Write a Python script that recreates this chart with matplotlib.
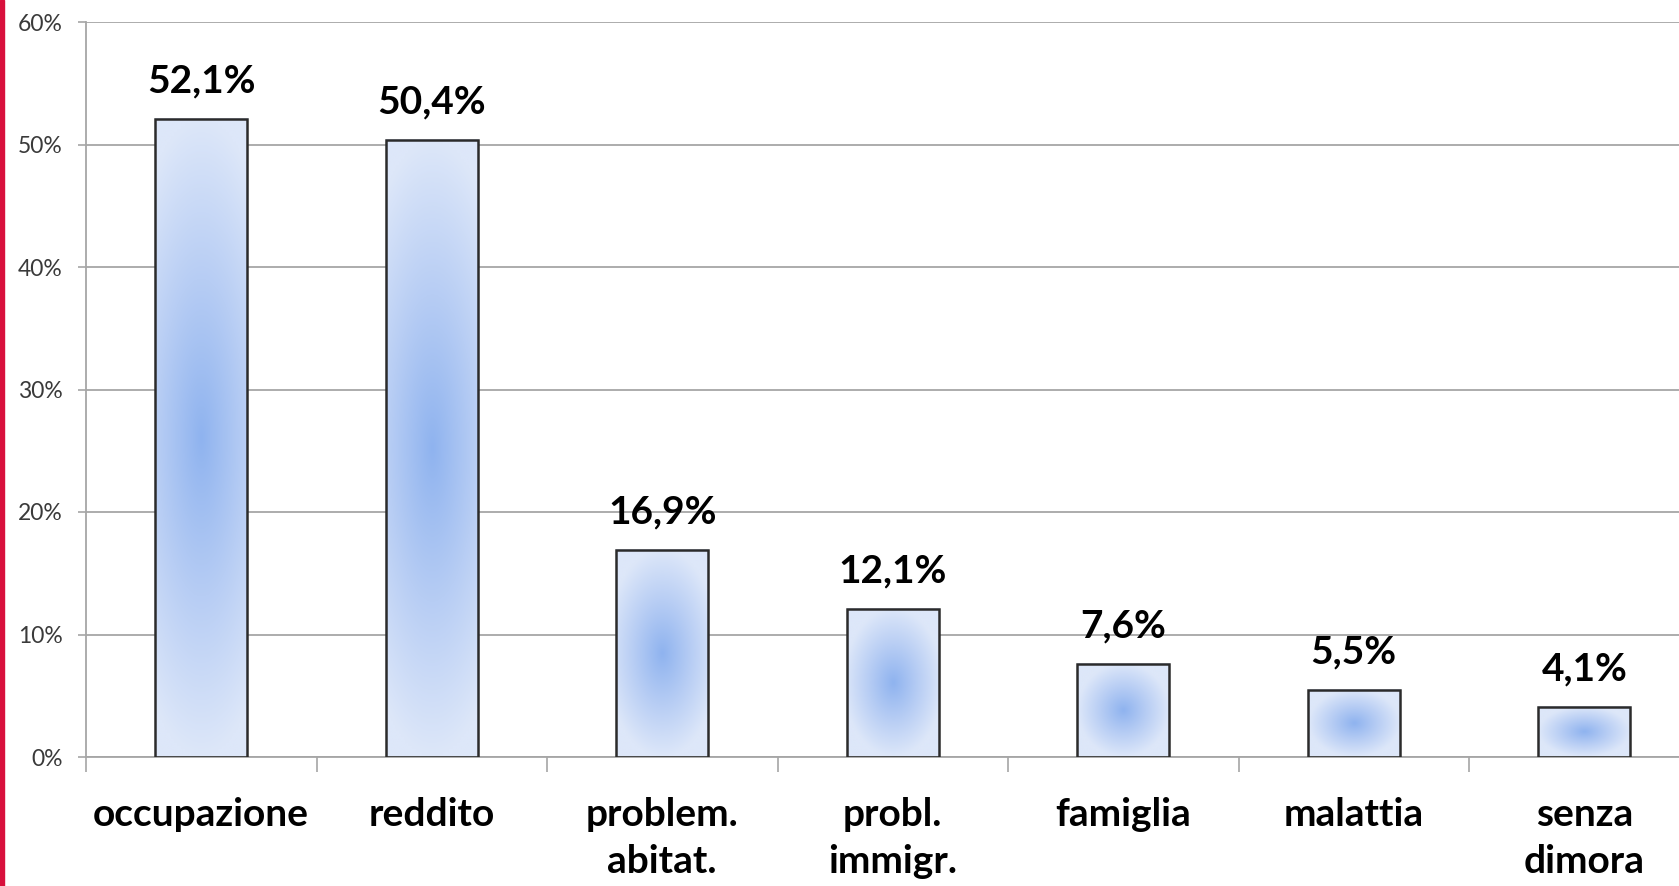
import matplotlib
matplotlib.use('Agg')
import matplotlib.pyplot as plt
import numpy as np
from matplotlib.colors import LinearSegmentedColormap
from matplotlib.patches import Rectangle

categories = ['occupazione', 'reddito', 'problem.\nabitat.', 'probl.\nimmigr.',
              'famiglia', 'malattia', 'senza\ndimora']
values = [52.1, 50.4, 16.9, 12.1, 7.6, 5.5, 4.1]
value_labels = ['52,1%', '50,4%', '16,9%', '12,1%', '7,6%', '5,5%', '4,1%']
yticks = [0, 10, 20, 30, 40, 50, 60]
ytick_labels = ['0%', '10%', '20%', '30%', '40%', '50%', '60%']

plt.rcParams['font.family'] = ['Lato', 'DejaVu Sans']

W, H = 1679, 886
fig = plt.figure(figsize=(W/100, H/100), dpi=100)
left, right, bottom, top = 86, 1699.5, 129, 864
ax = fig.add_axes([left/W, bottom/H, (right-left)/W, (top-bottom)/H])

# red stripe at the left edge of the slide
fig.add_artist(Rectangle((0, 0), 4/W, 1, transform=fig.transFigure,
                         color='#d8103c', zorder=10))

ax.set_xlim(0, 7)
ax.set_ylim(0, 60)

grid_c = '#a6a6a6'
ax.set_yticks(yticks)
ax.set_yticklabels(ytick_labels, fontsize=16.5, color='#3a3a3a')
ax.yaxis.grid(True, color=grid_c, linewidth=1.3)
ax.set_axisbelow(True)
ax.tick_params(axis='y', length=6, width=1.2, color=grid_c, pad=11)

ax.set_xticks(np.arange(7) + 0.5)
ax.set_xticklabels(categories, fontsize=28, fontweight='bold', linespacing=1.4)
ax.set_xticks(np.arange(8), minor=True)
ax.tick_params(axis='x', which='major', length=0, pad=29)
ax.tick_params(axis='x', which='minor', length=11, width=1.2, color=grid_c)

for s in ['top', 'right']:
    ax.spines[s].set_visible(False)
ax.spines['left'].set_color(grid_c)
ax.spines['bottom'].set_color(grid_c)
ax.spines['left'].set_linewidth(1.3)
ax.spines['bottom'].set_linewidth(1.3)

cmap = LinearSegmentedColormap.from_list('g', ['#8fb3ef', '#b7cdf4', '#dde7f9'])
bw = 0.4
px_per_cat = (right - left) / 7
px_per_unit = (top - bottom) / 60
for i, v in enumerate(values):
    x0 = i + 0.5 - bw/2
    wpx = bw * px_per_cat
    hpx = v * px_per_unit
    c = np.clip(wpx/hpx*1.2 + 0.1, 0.25, 1.0)
    yy, xx = np.mgrid[-1:1:200j, -1:1:60j]
    t = np.clip(np.sqrt(c*xx**2 + yy**2), 0, 1)
    ax.imshow(t, cmap=cmap, extent=(x0, x0+bw, 0, v), aspect='auto',
              origin='lower', zorder=2, interpolation='bilinear', vmin=0, vmax=1)
    ax.add_patch(Rectangle((x0, 0), bw, v, fill=False, edgecolor='#2b2b2b',
                           linewidth=1.8, zorder=3))
    ax.annotate(value_labels[i], (i + 0.5, v), xytext=(0, 27),
                textcoords='offset points', ha='center', va='center',
                fontsize=28, fontweight='bold', zorder=4)

ax.set_xlim(0, 7)
ax.set_ylim(0, 60)

fig.savefig('out.png', dpi=100)
